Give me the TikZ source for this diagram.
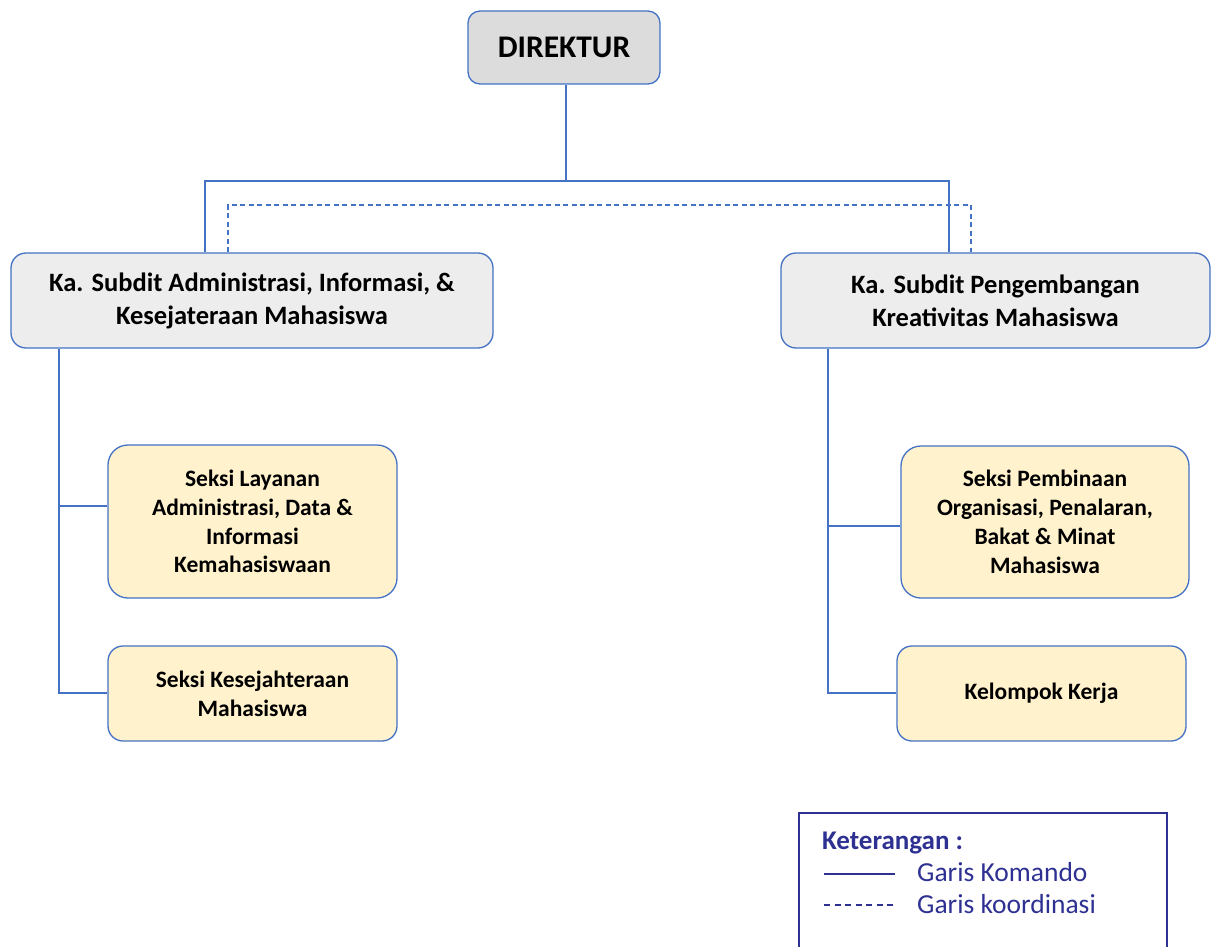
\documentclass[tikz,border=0pt]{standalone}
\usepackage{fontspec}
\setmainfont{Carlito}
\definecolor{ob}{HTML}{4472C4}
\definecolor{gA}{HTML}{DCDCDC}
\definecolor{gB}{HTML}{EDEDED}
\definecolor{yl}{HTML}{FFF2CC}
\definecolor{lg}{HTML}{2E3192}
\tikzset{
  box/.style={draw=ob, line width=1.3pt, align=center, inner sep=0pt, font=\bfseries},
  topbox/.style={box, fill=gA, rounded corners=12pt, font=\bfseries\fontsize{31.5}{38}\selectfont},
  subbox/.style={box, fill=gB, rounded corners=15pt, font=\bfseries\fontsize{26.5}{33}\selectfont},
  secbox/.style={box, fill=yl, rounded corners=20pt, font=\bfseries\fontsize{23.5}{28.8}\selectfont},
  cmd/.style={draw=ob, line width=1.3pt},
  crd/.style={draw=ob, line width=1.3pt, dash pattern=on 5pt off 3.5pt},
  legtxt/.style={text=lg, inner sep=0pt, anchor=base west, font=\fontsize{27.5}{33}\selectfont}
}
\begin{document}
\begin{tikzpicture}[x=1pt,y=-1pt]
\useasboundingbox (0,0) rectangle (1212,947);
% nodes
\node[topbox, minimum width=192pt, minimum height=73pt] (dir) at (564,47.5) {\raisebox{-1.5pt}{DIREKTUR}};
\node[subbox, minimum width=482pt, minimum height=95pt] (sa) at (252,300.5) {Ka. Subdit Administrasi, Informasi, \&\\Kesejateraan Mahasiswa};
\node[subbox, minimum width=429pt, minimum height=95pt] (sb) at (995.5,300.5) {Ka. Subdit Pengembangan\\Kreativitas Mahasiswa};
\node[secbox, minimum width=289pt, minimum height=153pt] (l1) at (252.5,521.5) {Seksi Layanan\\Administrasi, Data \&\\Informasi\\Kemahasiswaan};
\node[secbox, rounded corners=15pt, minimum width=289pt, minimum height=95pt] (l2) at (252.5,693.5) {Seksi Kesejahteraan\\Mahasiswa};
\node[secbox, minimum width=288pt, minimum height=152pt] (r1) at (1045,522) {Seksi Pembinaan\\Organisasi, Penalaran,\\Bakat \& Minat\\Mahasiswa};
\node[secbox, rounded corners=15pt, minimum width=289pt, minimum height=95pt] (r2) at (1041.5,693.5) {Kelompok Kerja};
% command lines
\draw[cmd] (dir.south -| 566,0) -- (566,181);
\draw[cmd] (sa.north -| 205,0) -- (205,181) -- (949,181) -- (sb.north -| 949,0);
\draw[crd] (sa.north -| 228,0) -- (228,205) -- (971,205) -- (sb.north -| 971,0);
\draw[cmd] (sa.south -| 59,0) -- (59,693) -- (l2.west |- 0,693);
\draw[cmd] (59,506) -- (l1.west |- 0,506);
\draw[cmd] (sb.south -| 828,0) -- (828,693) -- (r2.west |- 0,693);
\draw[cmd] (828,526) -- (r1.west |- 0,526);
% legend
\node[draw=lg, line width=2.2pt, minimum width=368pt, minimum height=160pt, anchor=north west, inner sep=0pt] (leg) at (798,812) {};
\node[legtxt, font=\bfseries\fontsize{27}{33}\selectfont] (kt) at (822,849) {Keterangan :};
\node[legtxt] (gk) at (917,881) {Garis Komando};
\node[legtxt] (gc) at (917,913) {Garis koordinasi};
\coordinate (ka) at (824,874);
\coordinate (kb) at (895,874);
\coordinate (ca) at (824,905);
\coordinate (cb) at (896,905);
\draw[draw=lg, line width=1.8pt] (ka) -- (kb);
\draw[draw=lg, line width=1.4pt, dash pattern=on 6pt off 4.5pt] (ca) -- (cb);
\end{tikzpicture}
\end{document}
